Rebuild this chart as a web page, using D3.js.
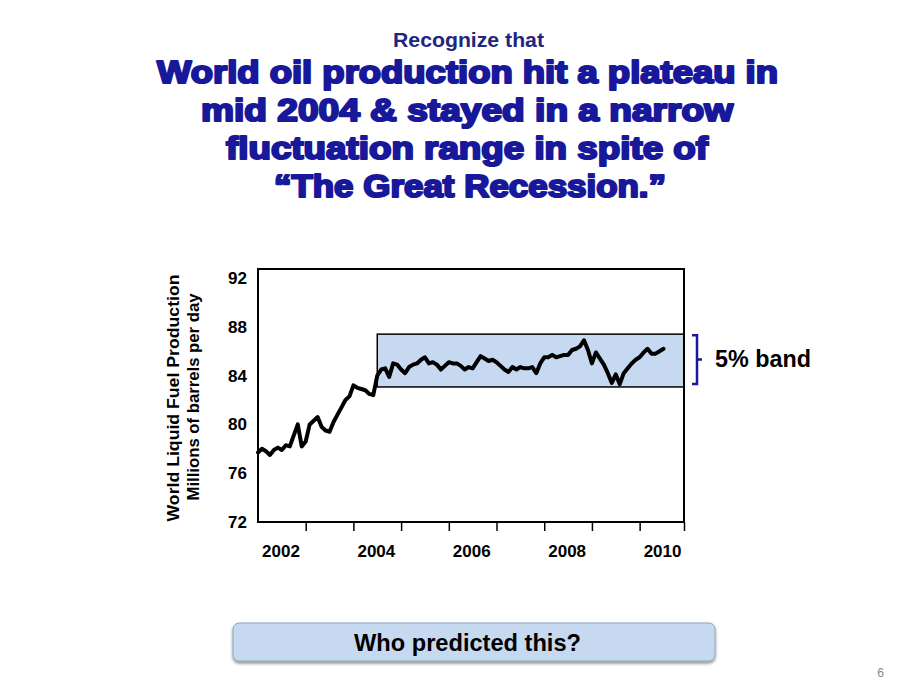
<!DOCTYPE html>
<html>
<head>
<meta charset="utf-8">
<script src="https://cdn.jsdelivr.net/npm/d3@7"></script>
<style>
  html, body { margin: 0; padding: 0; background: #fff; }
  svg { display: block; }
</style>
</head>
<body>
<svg id="chart" width="900" height="685"></svg>
<script>
// ---------------- DATA ----------------
const startYear = 2002;               // first monthly point = Jan 2002
const production = [                  // million barrels per day, monthly
  77.7, 78.0, 77.8, 77.5, 77.9, 78.1, 77.9, 78.3, 78.2, 79.1, 80.0, 78.2,
  78.6, 80.0, 80.3, 80.6, 79.8, 79.5, 79.4, 80.2, 80.8, 81.4, 82.0, 82.3,
  83.2, 83.0, 82.9, 82.8, 82.5, 82.4, 84.0, 84.5, 84.6, 83.9, 85.0, 84.9,
  84.5, 84.2, 84.7, 84.9, 85.0, 85.3, 85.5, 85.0, 85.1, 84.9, 84.5, 84.8,
  85.1, 85.0, 85.0, 84.8, 84.5, 84.7, 84.6, 85.1, 85.6, 85.4, 85.2, 85.3,
  85.1, 84.8, 84.5, 84.3, 84.7, 84.5, 84.7, 84.6, 84.6, 84.7, 84.2, 85.0,
  85.5, 85.5, 85.7, 85.5, 85.6, 85.7, 85.7, 86.1, 86.2, 86.4, 86.9, 86.1,
  85.0, 85.9, 85.4, 84.9, 84.2, 83.4, 84.1, 83.3, 84.2, 84.6, 85.0, 85.3,
  85.5, 85.9, 86.2, 85.8, 85.8, 86.0, 86.2
];
const yTicks = [72, 76, 80, 84, 88, 92];
const xTickYears = [2003, 2004, 2005, 2006, 2007, 2008, 2009, 2010, 2010.93];
const xLabelYears = [2002, 2004, 2006, 2008, 2010];
const yDomain = [72, 92.74];
const xDomain = [2002, 2010.93];
const band = { from: 2004.5, low: 83.07, high: 87.4 };  // the "5% band"

const subtitle = "Recognize that";
const titleLines = [
  "World oil production hit a plateau in",
  "mid 2004 & stayed in a narrow",
  "fluctuation range in spite of",
  "\u201CThe Great Recession.\u201D"
];
const yTitle1 = "World Liquid Fuel Production";
const yTitle2 = "Millions of barrels per day";
const bandLabel = "5% band";
const buttonText = "Who predicted this?";
const pageNum = "6";

// ---------------- DRAW ----------------
const svg = d3.select("#chart");
const navy = "#18189a";
const subNavy = "#1e2680";
const font = "'Liberation Sans', Arial, Helvetica, sans-serif";

const defs = svg.append("defs");
const f = defs.append("filter").attr("id", "shadow").attr("x", "-10%").attr("y", "-30%").attr("width", "120%").attr("height", "180%");
f.append("feDropShadow").attr("dx", 0).attr("dy", 2).attr("stdDeviation", 1.5).attr("flood-color", "#000").attr("flood-opacity", 0.45);

// Subtitle
svg.append("text").attr("x", 393).attr("y", 47)
  .attr("font-family", font).attr("font-weight", "bold").attr("font-size", 20)
  .attr("textLength", 151).attr("lengthAdjust", "spacingAndGlyphs")
  .attr("fill", subNavy).text(subtitle);

// Title lines (heavy)
const titleSpec = [
  { y: 83, x0: 157, x1: 778 },
  { y: 121, x0: 201, x1: 733 },
  { y: 159, x0: 226, x1: 708 },
  { y: 197, x0: 274, x1: 666 }
];
titleLines.forEach((t, i) => {
  const s = titleSpec[i];
  svg.append("text")
    .attr("x", s.x0).attr("y", s.y)
    .attr("font-family", font).attr("font-weight", "bold").attr("font-size", 32)
    .attr("fill", navy).attr("stroke", navy).attr("stroke-width", 2.2)
    .attr("stroke-linejoin", "round")
    .attr("textLength", s.x1 - s.x0).attr("lengthAdjust", "spacingAndGlyphs")
    .text(t);
});

// Chart scales
const x = d3.scaleLinear().domain(xDomain).range([258, 684]);
const y = d3.scaleLinear().domain(yDomain).range([522, 269]);

// Band
svg.append("rect")
  .attr("x", x(band.from)).attr("y", y(band.high))
  .attr("width", x(xDomain[1]) - x(band.from))
  .attr("height", y(band.low) - y(band.high))
  .attr("fill", "#c6d9f0").attr("stroke", "#000").attr("stroke-width", 1.5);

// Line
const line = d3.line()
  .x((d, i) => x(startYear + i / 12))
  .y(d => y(d))
  .curve(d3.curveLinear);
svg.append("path").datum(production)
  .attr("d", line)
  .attr("fill", "none").attr("stroke", "#000").attr("stroke-width", 4)
  .attr("stroke-linejoin", "round").attr("stroke-linecap", "round");

// Plot frame
svg.append("rect").attr("x", 258).attr("y", 269).attr("width", 426).attr("height", 253)
  .attr("fill", "none").attr("stroke", "#000").attr("stroke-width", 2);

// X axis ticks (year boundaries)
const xAxisTicks = d3.axisBottom(x).tickValues(xTickYears).tickSize(9).tickFormat("");
const gxt = svg.append("g").attr("transform", "translate(0,522)").call(xAxisTicks);
gxt.select(".domain").remove();
gxt.selectAll("line").attr("stroke", "#000").attr("stroke-width", 1.5);

// X labels centred inside each year
const xAxisLabels = d3.axisBottom(x).tickValues(xLabelYears.map(v => v + 0.47)).tickSize(0)
  .tickFormat(v => String(Math.round(v - 0.47)));
const gxl = svg.append("g").attr("transform", "translate(0,522)").call(xAxisLabels);
gxl.select(".domain").remove();
gxl.selectAll("text").attr("dy", null).attr("y", 35)
  .attr("font-family", font).attr("font-weight", "bold").attr("font-size", 17).attr("fill", "#000");

// Y axis labels
const yAxis = d3.axisLeft(y).tickValues(yTicks).tickSize(0).tickPadding(11);
const gy = svg.append("g").attr("transform", "translate(258,0)").call(yAxis);
gy.select(".domain").remove();
gy.selectAll("text").attr("font-family", font).attr("font-weight", "bold")
  .attr("font-size", 17).attr("fill", "#000");

// Y titles
svg.append("text").attr("transform", "translate(179,398) rotate(-90)")
  .attr("text-anchor", "middle").attr("font-family", font).attr("font-weight", "bold")
  .attr("font-size", 17).attr("textLength", 247).attr("lengthAdjust", "spacingAndGlyphs")
  .attr("fill", "#000").text(yTitle1);
svg.append("text").attr("transform", "translate(199,397) rotate(-90)")
  .attr("text-anchor", "middle").attr("font-family", font).attr("font-weight", "bold")
  .attr("font-size", 17).attr("textLength", 207).attr("lengthAdjust", "spacingAndGlyphs")
  .attr("fill", "#000").text(yTitle2);

// Bracket for the band
const bTop = y(band.high) + 1, bBot = y(band.low) - 3, bx = 692;
svg.append("path")
  .attr("d", `M${bx},${bTop} H${bx + 5} V${bBot} H${bx}` +
             ` M${bx + 5},${(bTop + bBot) / 2} H${bx + 10}`)
  .attr("fill", "none").attr("stroke", navy).attr("stroke-width", 2.5);
svg.append("text").attr("x", 715).attr("y", 367)
  .attr("font-family", font).attr("font-weight", "bold").attr("font-size", 23)
  .attr("textLength", 96).attr("lengthAdjust", "spacingAndGlyphs")
  .attr("fill", "#000").text(bandLabel);

// Button
svg.append("rect").attr("x", 233).attr("y", 623).attr("width", 482).attr("height", 38)
  .attr("rx", 6).attr("fill", "#c6d9f1").attr("stroke", "#8ea4c0").attr("stroke-width", 1)
  .attr("filter", "url(#shadow)");
svg.append("text").attr("x", 354).attr("y", 651)
  .attr("font-family", font).attr("font-weight", "bold").attr("font-size", 24)
  .attr("textLength", 227).attr("lengthAdjust", "spacingAndGlyphs")
  .attr("fill", "#000").text(buttonText);

// Page number
svg.append("text").attr("x", 884).attr("y", 677).attr("text-anchor", "end")
  .attr("font-family", font).attr("font-size", 12).attr("fill", "#888").text(pageNum);
</script>
</body>
</html>
